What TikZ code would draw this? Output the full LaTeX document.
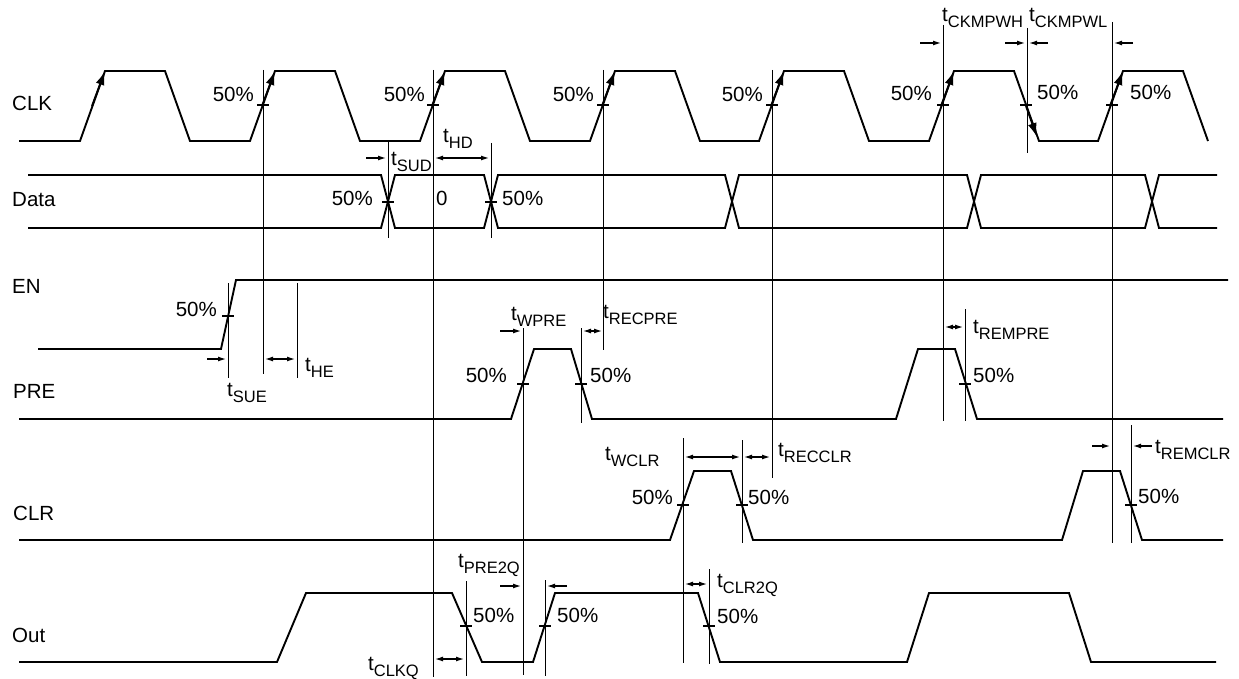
\documentclass[tikz,border=0pt]{standalone}
\usepackage{fontspec}
\setmainfont{Liberation Sans}
\usetikzlibrary{arrows.meta,positioning}
\tikzset{>/.tip={Latex[length=8pt,width=5pt]}}
\tikzset{
  wave/.style={line width=1.9pt,line join=miter},
  clkarrow/.style={line width=1.9pt,-{Latex[length=14pt,width=9pt]}},
  guide/.style={line width=0.8pt},
  dim/.style={line width=1.2pt},
  lbl/.style={inner sep=0pt,anchor=base west},
  lbr/.style={inner sep=0pt,anchor=base east},
}
\newcommand{\tsub}[1]{t\raisebox{-6pt}{\fontsize{16.5}{16.5}\selectfont #1}}

\begin{document}
\begin{tikzpicture}[x=1pt,y=-1pt,font=\fontsize{20.5}{24}\selectfont]
  \useasboundingbox (0,0) rectangle (1239,679);
  % signal names
  \node(clk)[lbl] at (12,111){CLK};
  \node(data)[lbl] at (12,207){Data};
  \node(en)[lbl] at (12,293){EN};
  \node(pre)[lbl] at (13,398){PRE};
  \node(clr)[lbl] at (13,520){CLR};
  \node(out)[lbl] at (12,642){Out};

  % waveforms
  \draw[wave] (19,141) foreach \s in {80,250,420,590,759,929,1098}
    { -- (\s,141) -- (\s+25,71) -- (\s+85,71) -- (\s+110,141) };
  \foreach \s in {80,250,420,590,759,929,1098}
    \draw[clkarrow] (\s+12,106) -- (\s+25,71);
  \draw[clkarrow] (1026,106) -- (1037,137);
  \draw[wave] (28,175) -- (381,175) -- (395,228) -- (484,228) -- (498,175) -- (725,175)
    -- (739,228) -- (967,228) -- (981,175) -- (1145,175) -- (1159,228) -- (1217,228);
  \draw[wave] (28,228) -- (381,228) -- (395,175) -- (484,175) -- (498,228) -- (725,228)
    -- (739,175) -- (967,175) -- (981,228) -- (1145,228) -- (1159,175) -- (1217,175);
  \draw[wave] (38,349) -- (221,349) -- (236,280) -- (1228,280);
  \draw[wave] (19,419) -- (511,419) -- (534,349) -- (571,349) -- (592,419) -- (896,419)
    -- (918,349) -- (955,349) -- (977,419) -- (1223,419);
  \draw[wave] (19,540) -- (670,540) -- (694,471) -- (731,471) -- (753,540) -- (1062,540)
    -- (1083,471) -- (1120,471) -- (1142,540) -- (1223,540);
  \draw[wave] (19,662) -- (277,662) -- (306,593) -- (452,593) -- (482,662) -- (533,662)
    -- (555,593) -- (698,593) -- (720,662) -- (907,662) -- (929,593) -- (1069,593)
    -- (1091,662) -- (1216,662);

  % 50% marks
  \foreach \x/\y in {263/105,433/105,603/105,772/105,943/105,1026/105,1112/105,
      388/202,491/202,228/316,523/384,581/384,965/384,683/505,742/505,1131/505,
      466/626,545/626,709/626}
    \draw[wave] (\x-6,\y) -- (\x+6,\y);

  % guide lines
  \foreach \x/\a/\b in {263/70/374,433/70/677,603/70/350,772/70/478,943/25/421,
      1027/28/153,1112/22/543,388/141/238,491/143/238,228/283/378,297/283/378,
      523/328/675,581/328/423,965/309/421,683/438/663,742/440/543,1131/425/543,
      466/581/676,545/580/676,709/569/664}
    \draw[guide] (\x,\a) -- (\x,\b);

  % timing arrows
  \draw[dim,->] (366,158) -- (386,158);
  \draw[dim,<->] (435,158) -- (489,158);
  \draw[dim,->] (207,359) -- (226,359);
  \draw[dim,<->] (265,359) -- (295,359);
  \draw[dim,->] (500,331) -- (521,331);
  \draw[dim,<->] (583,331) -- (602,331);
  \draw[dim,<->] (945,327) -- (963,327);
  \draw[dim,<->] (685,457) -- (740,457);
  \draw[dim,<->] (744,457) -- (770,457);
  \draw[dim,->] (1092,446) -- (1110,446);
  \draw[dim,->] (1152,446) -- (1133,446);
  \draw[dim,<->] (435,659) -- (464,659);
  \draw[dim,->] (500,586) -- (521,586);
  \draw[dim,->] (567,586) -- (547,586);
  \draw[dim,<->] (685,584) -- (707,584);
  \draw[dim,->] (920,43) -- (941,43);
  \draw[dim,->] (1005,43) -- (1025,43);
  \draw[dim,->] (1048,43) -- (1029,43);
  \draw[dim,->] (1133,43) -- (1114,43);

  % timing labels
  \node(sud)[lbl] at (391,166){\tsub{SUD}};
  \node(hd)[lbl] at (443,143){\tsub{HD}};
  \node(sue)[lbl] at (227,396){\tsub{SUE}};
  \node(he)[lbl] at (305,371){\tsub{HE}};
  \node(wpre)[lbl] at (511,320){\tsub{WPRE}};
  \node(recpre)[lbl] at (603,318){\tsub{RECPRE}};
  \node(rempre)[lbl] at (973,333){\tsub{REMPRE}};
  \node(wclr)[lbl] at (605,460){\tsub{WCLR}};
  \node(recclr)[lbl] at (778,456){\tsub{RECCLR}};
  \node(remclr)[lbl] at (1155,453){\tsub{REMCLR}};
  \node(clrq)[lbl] at (717,587){\tsub{CLR2Q}};
  \node(preq)[lbl] at (458,567){\tsub{PRE2Q}};
  \node(clkq)[lbl] at (368,670){\tsub{CLKQ}};
  \node(pwh)[lbl] at (942,22){\tsub{CKMPWH}};
  \node(pwl)[lbl] at (1029,22){\tsub{CKMPWL}};

  % 50% labels
  \node(c1)[lbr] at (254,102){50\%};
  \node(c2)[lbr] at (425,102){50\%};
  \node(c3)[lbr] at (594,102){50\%};
  \node(c4)[lbr] at (763,102){50\%};
  \node(c5)[lbr] at (932,101){50\%};
  \node(c6)[lbl] at (1037,100){50\%};
  \node(c7)[lbl] at (1130,100){50\%};
  \node(d1)[lbr] at (373,206){50\%};
  \node(d2)[lbl] at (502,206){50\%};
  \node(d0)[lbl] at (436,206){0};
  \node(e1)[lbr] at (217,316){50\%};
  \node(p1)[lbr] at (507,382){50\%};
  \node(p2)[lbl] at (590,382){50\%};
  \node(p3)[lbl] at (973,382){50\%};
  \node(r1)[lbr] at (673,504){50\%};
  \node(r2)[lbl] at (748,504){50\%};
  \node(r3)[lbl] at (1138,503){50\%};
  \node(o1)[lbl] at (473,622){50\%};
  \node(o2)[lbl] at (557,622){50\%};
  \node(o3)[lbl] at (717,623){50\%};
\end{tikzpicture}
\end{document}
